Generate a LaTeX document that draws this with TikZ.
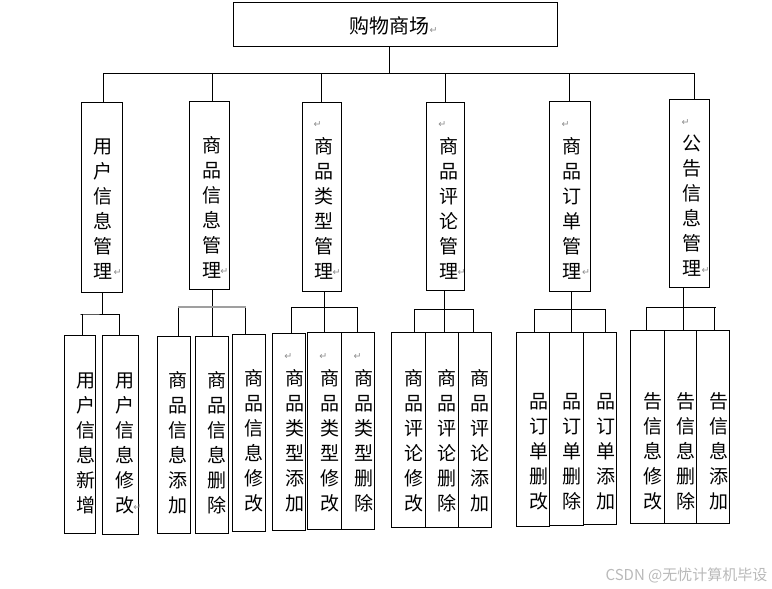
\documentclass[tikz,border=0pt]{standalone}
\usepackage{fontspec}
\newfontfamily\cjk{Noto Sans CJK SC}
\newfontfamily\dvs{DejaVu Sans}
\usetikzlibrary{fit}
\def\vcharsloop#1{\ifx#1\relax\else\hbox{#1}\expandafter\vcharsloop\fi}
\newcommand\vchars[1]{\vtop{\baselineskip=25pt\lineskiplimit=-100pt\lineskip=0pt\vcharsloop#1\relax}}
\tikzset{
  box/.style={draw, line width=1pt, inner sep=0pt},
  vt/.style={font=\cjk\fontsize{19}{25}\selectfont, anchor=base, inner sep=0pt},
  ret/.style={font=\dvs\fontsize{9.5}{9.5}\selectfont, text=gray!90, inner sep=0pt},
  ln/.style={line width=1pt},
  gbar/.style={line width=1.6pt, draw=gray!75}
}
\newcommand\bx[5]{\node[box, fit={(#2,#3) (#4,#5)}] (#1) {};}
\begin{document}
\begin{tikzpicture}[x=1pt,y=-1pt]
\useasboundingbox (0,0) rectangle (772,589);
% top
\bx{top}{233}{2}{557}{46}
\node[font=\cjk\fontsize{20}{24}\selectfont, anchor=base, inner sep=0pt] (toptxt) at (389,33.6) {购物商场};
\node[ret] (rtop) at (433.5,30.7) {↵};
% level 2 boxes
\bx{b1}{81.3}{102.3}{122.3}{292}
\bx{b2}{189.3}{101.3}{229.3}{289.3}
\bx{b3}{302.3}{102.3}{341.3}{291.3}
\bx{b4}{426.3}{102.3}{464.3}{290.3}
\bx{b5}{549.3}{101.3}{590.3}{291.3}
\bx{b6}{669.3}{99.3}{709.3}{287.3}
\node[vt] (t1) at (103.3,153.9) {\vchars{用户信息管理}};
\node[vt] (t2) at (211.7,152.2) {\vchars{商品信息管理}};
\node[vt] (t3) at (324,153.9) {\vchars{商品类型管理}};
\node[vt] (t4) at (449,153.9) {\vchars{商品评论管理}};
\node[vt] (t5) at (571.7,153.2) {\vchars{商品订单管理}};
\node[vt] (t6) at (691.7,150.5) {\vchars{公告信息管理}};
\node[ret] (r1) at (117.7,273) {↵};
\node[ret] (r2) at (224.3,272) {↵};
\node[ret] (r3) at (336.7,273) {↵};
\node[ret] (r4) at (461.7,273) {↵};
\node[ret] (r5) at (586,273) {↵};
\node[ret] (r6) at (705.7,271) {↵};
\node[ret] (r3a) at (317.7,124.3) {↵};
\node[ret] (r4a) at (442.3,124.3) {↵};
\node[ret] (r5a) at (565.7,124.3) {↵};
\node[ret] (r6a) at (685.7,122.3) {↵};
% bus
\coordinate (busL) at (103,73);
\coordinate (busR) at (694,73);
\draw[ln] ([xshift=-5.4pt]top.south) -- ([xshift=-5.4pt]top.south |- busL);
\draw[ln] (busL) -- (busR);
\draw[ln] (busL) -- (busL |- b1.north);
\draw[ln] ([xshift=2.7pt]b2.north |- busL) -- ([xshift=2.7pt]b2.north);
\draw[ln] ([xshift=-0.8pt]b3.north |- busL) -- ([xshift=-0.8pt]b3.north);
\draw[ln] (b4.north |- busL) -- (b4.north);
\draw[ln] (b5.north |- busL) -- (b5.north);
\draw[ln] (busR) -- (busR |- b6.north);
% level 3 boxes
\bx{c11}{64.3}{335.3}{95.3}{533}
\bx{c12}{102.3}{335.7}{138.3}{534.3}
\bx{c21}{157.3}{336.3}{190.3}{533}
\bx{c22}{195.3}{336.3}{228.3}{533}
\bx{c23}{232.3}{334.3}{265.3}{531}
\bx{c31}{272.7}{333.3}{305.3}{530}
\bx{c32}{307.7}{332.3}{341.7}{529}
\bx{c33}{341.7}{332.3}{374.7}{529}
\bx{c41}{391.7}{332.7}{425.7}{527.3}
\bx{c42}{425.7}{332.7}{458.7}{527.3}
\bx{c43}{458.7}{332.7}{491.3}{527.3}
\bx{c51}{516.7}{332.3}{549.7}{526.3}
\bx{c52}{549.7}{332.3}{583.3}{525.3}
\bx{c53}{583.3}{332.3}{616.3}{524.3}
\bx{c61}{630.3}{330.3}{664.3}{523}
\bx{c62}{664.3}{330.3}{696.7}{523}
\bx{c63}{696.7}{330.3}{729.3}{523}
% level 3 texts
\node[vt] (u1) at (86.3,387.2) {\vchars{用户信息新增}};
\node[vt] (u2) at (124.5,387.2) {\vchars{用户信息修改}};
\node[ret] (ru2) at (137.3,508) {↵};
\node[vt] (g21) at (178.3,387.2) {\vchars{商品信息添加}};
\node[vt] (g22) at (216.7,387.2) {\vchars{商品信息删除}};
\node[vt] (g23) at (254,385.5) {\vchars{商品信息修改}};
\node[vt] (g31) at (295,385.5) {\vchars{商品类型添加}};
\node[vt] (g32) at (330,385.5) {\vchars{商品类型修改}};
\node[vt] (g33) at (364.3,385.5) {\vchars{商品类型删除}};
\node[ret] (rg31) at (288.3,356.7) {↵};
\node[ret] (rg32) at (323.3,356.7) {↵};
\node[ret] (rg33) at (357.7,356.7) {↵};
\node[vt] (g41) at (414,385.5) {\vchars{商品评论修改}};
\node[vt] (g42) at (446.7,385.5) {\vchars{商品评论删除}};
\node[vt] (g43) at (480,385.5) {\vchars{商品评论添加}};
\node[vt] (g51) at (539.3,408.9) {\vchars{品订单删改}};
\node[vt] (g52) at (571.7,408.9) {\vchars{品订单删除}};
\node[vt] (g53) at (606,408.9) {\vchars{品订单添加}};
\node[vt] (g61) at (653.3,408.9) {\vchars{告信息修改}};
\node[vt] (g62) at (685.7,408.9) {\vchars{告信息删除}};
\node[vt] (g63) at (719,408.9) {\vchars{告信息添加}};
% group connectors
% group 1
\draw[ln] (b1.south -| 102.3,0) -- (102.3,314);
\draw[ln] (c11.north -| 82.3,0) -- (82.3,314) -- (80.3,314) -- (119.3,314) -- (c12.north -| 119.3,0);
% group 2
\draw[ln] (b2.south -| 212.3,0) -- (c22.north -| 212.3,0);
\draw[ln] (c21.north -| 178.3,0) -- (178.3,307);
\draw[ln] (c23.north -| 245.7,0) -- (245.7,307);
\draw[gbar] (178.3,307) -- (245.7,307);
% group 3
\draw[ln] (b3.south -| 324.3,0) -- (c32.north -| 324.3,0);
\draw[ln] (c31.north -| 291.7,0) -- (291.7,307.3) -- (357.3,307.3) -- (c33.north -| 357.3,0);
% group 4
\draw[ln] (b4.south -| 444.3,0) -- (c42.north -| 444.3,0);
\draw[ln] (c41.north -| 414.3,0) -- (414.3,309.3) -- (473.3,309.3) -- (c43.north -| 473.3,0);
% group 5
\draw[ln] (b5.south -| 571.3,0) -- (c52.north -| 571.3,0);
\draw[ln] (c51.north -| 534.5,0) -- (534.5,309.3) -- (605.3,309.3) -- (c53.north -| 605.3,0);
% group 6
\draw[ln] (b6.south -| 683.3,0) -- (c62.north -| 683.3,0);
\draw[ln] (c61.north -| 646.7,0) -- (646.7,307.3) -- (715.7,307.3);
\draw[ln] (714.3,307.3) -- (c63.north -| 714.3,0);
% watermark
\node[font=\cjk\fontsize{15}{18}\selectfont, text=gray!55, inner sep=0pt] (wm) at (686.5,575) {CSDN @无忧计算机毕设};
\end{tikzpicture}
\end{document}
